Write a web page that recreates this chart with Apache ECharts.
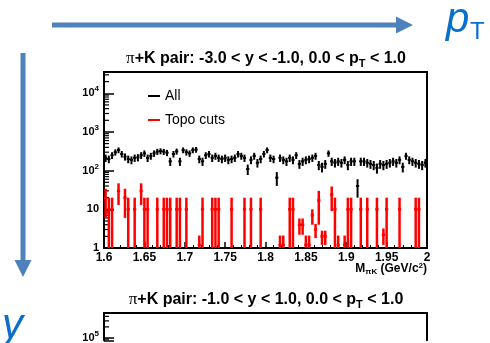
<!DOCTYPE html>
<html><head><meta charset="utf-8">
<script src="https://cdn.jsdelivr.net/npm/echarts@6/dist/echarts.min.js"></script>
<style>html,body{margin:0;padding:0;background:#fff}#c{width:490px;height:343px}</style>
</head><body><div id="c"></div>
<script>
// ---- data ----
const massMin = 1.6, massMax = 2.0, binWidth = 0.004;
const xTickLabels = ['1.6','1.65','1.7','1.75','1.8','1.85','1.9','1.95','2'];
const allValues = [
 214,200,250,300,340,270,230,200,190,214,
 220,250,280,214,240,280,310,320,310,290,
 174,270,315,174,340,300,280,340,350,200,
 174,250,270,214,240,214,200,214,190,200,
 214,270,240,214,110,190,240,160,200,270,
 340,214,200,66,214,190,174,214,190,250,
 150,174,190,200,214,240,140,125,150,280,
 174,160,174,160,190,140,174,174,40,174,
 174,160,150,140,118,150,140,150,160,174,
 160,190,125,240,190,174,160,150,140,160];
const topoBins = [0,1,2,4,6,7,9,11,12,13,16,18,19,20,22,23,25,29,30,33,34,35,39,43,45,48,54,55,57,58,60,61,62,63,64,65,66,67,68,70,71,72,74,75,76,79,81,84,86,87,91,96,97];
const topoValues = [20,10,10,30,20,10,10,30,10,10,10,10,10,10,10,10,10,1.2,10,10,10,10,10,10,10,10,1.2,1.2,10,10,4,4,1.2,1.2,7,3,17,2,2,24,10,1.2,1.2,10,10,10,10,10,2.2,10,10,10,10];
const topoErrors = [14,10,10,17,14,10,10,17,10,10,10,10,10,10,10,10,10,0.9,10,10,10,10,10,10,10,10,0.9,0.9,10,10,1.8,1.8,0.9,0.9,3,1.2,13,0.8,0.8,15,10,0.9,0.9,10,10,10,10,10,1,10,10,10,10];
const allWeight = 10;

// ---- build ----
const allData = allValues.map((v,i)=>[massMin+(i+0.5)*binWidth, v, Math.sqrt(allWeight*v)]);
const topoData = topoBins.map((b,k)=>[massMin+(b+0.5)*binWidth, topoValues[k], topoErrors[k]]);
function minorTicks(maxExp){const a=[];for(let e=0;e<=maxExp;e++)for(let m=2;m<=9;m++)a.push([massMin,m*Math.pow(10,e)]);return a;}

function errRender(color,w){
  return function(params, api){
    const xc=api.value(0), v=api.value(1), e=api.value(2);
    const lo=Math.max(v-e,1), hi=v+e;
    const pL=api.coord([xc-binWidth/2,v]), pR=api.coord([xc+binWidth/2,v]);
    const pLo=api.coord([xc,lo]), pHi=api.coord([xc,hi]);
    const st={stroke:color,lineWidth:w};
    return {type:'group',children:[
      {type:'line',shape:{x1:pL[0],y1:pL[1],x2:pR[0],y2:pR[1]},style:st},
      {type:'line',shape:{x1:pLo[0],y1:pLo[1],x2:pHi[0],y2:pHi[1]},style:st}
    ]};
  };
}
function minorRender(params, api){
  const p=api.coord([api.value(0),api.value(1)]);
  return {type:'line',shape:{x1:p[0],y1:p[1],x2:p[0]+5,y2:p[1]},style:{stroke:'#000',lineWidth:1.2}};
}
const FONT='Liberation Sans, Arial, sans-serif';
function yFmt(v){
  const e=Math.log10(v), r=Math.round(e);
  if(Math.abs(e-r)>1e-6) return '';
  if(r===0) return '1';
  if(r===1) return '10';
  return '10{sup|'+r+'}';
}
function xFmt(v){
  const s=String(+v.toFixed(2));
  return xTickLabels.indexOf(s)>=0?s:'';
}
const yAxisCommon = {
  type:'log', logBase:10,
  axisLine:{show:true,lineStyle:{color:'#000',width:2}},
  axisTick:{show:true,inside:true,length:10,lineStyle:{color:'#000',width:1.5}},
  splitLine:{show:false},
  axisLabel:{formatter:yFmt,color:'#000',fontFamily:FONT,fontWeight:'bold',fontSize:11,margin:5,showMaxLabel:false,showMinLabel:true,
    rich:{sup:{fontSize:8,fontWeight:'bold',fontFamily:FONT,padding:[0,0,8,0]}}}
};
const xAxisCommon = {
  type:'value', min:massMin, max:massMax, interval:0.05,
  axisLine:{show:true,onZero:false,lineStyle:{color:'#000',width:2}},
  axisTick:{show:true,inside:true,length:6,lineStyle:{color:'#000',width:1.5}},
  minorTick:{show:true,splitNumber:5,length:3,lineStyle:{color:'#000',width:1}},
  splitLine:{show:false},
  axisLabel:{formatter:xFmt,color:'#000',fontFamily:FONT,fontWeight:'bold',fontSize:12,margin:4}
};
const frameOnly = {axisLine:{show:true,onZero:false,lineStyle:{color:'#000',width:2}},axisTick:{show:false},axisLabel:{show:false},splitLine:{show:false}};
const titleStyle = (txt)=>({
  text:txt, fill:'#000', font:'bold 16px '+FONT,
  rich:{pi:{fontFamily:'Liberation Serif, serif',fontWeight:'normal',fontSize:17},
        b:{fontFamily:FONT,fontWeight:'bold',fontSize:16},
        sub:{fontFamily:FONT,fontWeight:'bold',fontSize:11,padding:[9,0,0,0]}},
  textAlign:'center', textVerticalAlign:'middle'
});
const blue='#4f81bd', blue2='#0a6fc8';

const chart = echarts.init(document.getElementById('c'));
chart.setOption({
  animation:false,
  grid:[
    {left:104,top:72,width:323,height:176,show:true,borderColor:'#000',borderWidth:2,backgroundColor:'transparent'},
    {left:104,top:313,width:323,height:30,show:false}
  ],
  xAxis:[
    Object.assign({gridIndex:0},xAxisCommon),
    {gridIndex:1,type:'value',min:massMin,max:massMax,show:false},
    Object.assign({gridIndex:1,type:'value',min:massMin,max:massMax,position:'top'},frameOnly)
  ],
  yAxis:[
    Object.assign({gridIndex:0},yAxisCommon,{min:1,max:Math.pow(10,4.55)}),
    Object.assign({gridIndex:1},yAxisCommon,{min:Math.pow(10,4.921),max:Math.pow(10,5.7)}),
    Object.assign({gridIndex:1,type:'value',min:0,max:1,position:'right'},frameOnly)
  ],
  legend:{left:143,top:84,orient:'vertical',itemGap:10,itemWidth:12,itemHeight:2,icon:'rect',
    textStyle:{fontFamily:FONT,fontSize:14,color:'#000',padding:[0,0,0,0]},
    data:['All','Topo cuts']},
  series:[
    {name:'All',type:'custom',xAxisIndex:0,yAxisIndex:0,renderItem:errRender('#000',2),data:allData,itemStyle:{color:'#000'},clip:true,z:3},
    {name:'Topo cuts',type:'custom',xAxisIndex:0,yAxisIndex:0,renderItem:errRender('#ff0000',2.5),data:topoData,itemStyle:{color:'#ff0000'},clip:true,z:4},
    {name:'minor0',type:'custom',xAxisIndex:0,yAxisIndex:0,renderItem:minorRender,data:minorTicks(4),clip:true,silent:true},
    {name:'minor1',type:'custom',xAxisIndex:1,yAxisIndex:1,renderItem:minorRender,data:minorTicks(5),clip:true,silent:true}
  ],
  graphic:[
    {type:'line',shape:{x1:52,y1:25,x2:398,y2:25},style:{stroke:blue,lineWidth:5}},
    {type:'polygon',shape:{points:[[396,16.5],[413,25],[396,33.5]]},style:{fill:blue}},
    {type:'line',shape:{x1:23,y1:53,x2:23,y2:262},style:{stroke:blue,lineWidth:5}},
    {type:'polygon',shape:{points:[[14.5,260],[23,277],[31.5,260]]},style:{fill:blue}},
    {type:'text',x:446,y:20,style:{text:'p',font:'italic 42px '+FONT,fill:blue2,textVerticalAlign:'middle'}},
    {type:'text',x:470,y:32,style:{text:'T',font:'24px '+FONT,fill:blue2,textVerticalAlign:'middle'}},
    {type:'text',x:2,y:326,style:{text:'y',font:'italic 42px '+FONT,fill:blue2,textVerticalAlign:'middle'}},
    {type:'text',x:266,y:59,style:titleStyle('{pi|π}{b|+K pair: -3.0 < y < -1.0, 0.0 < p}{sub|T}{b| < 1.0}')},
    {type:'text',x:266,y:300,style:titleStyle('{pi|π}{b|+K pair: -1.0 < y < 1.0, 0.0 < p}{sub|T}{b| < 1.0}')},
    {type:'text',x:427,y:269,style:{text:'{b|M}{s|πK}{b| (GeV/c}{sup|2}{b|)}',textAlign:'right',textVerticalAlign:'middle',
      rich:{b:{fontFamily:FONT,fontWeight:'bold',fontSize:12},s:{fontFamily:FONT,fontWeight:'bold',fontSize:8,padding:[6,0,0,0]},
            sup:{fontFamily:FONT,fontWeight:'bold',fontSize:8,padding:[0,0,6,0]}}}}
  ]
});
</script></body></html>
